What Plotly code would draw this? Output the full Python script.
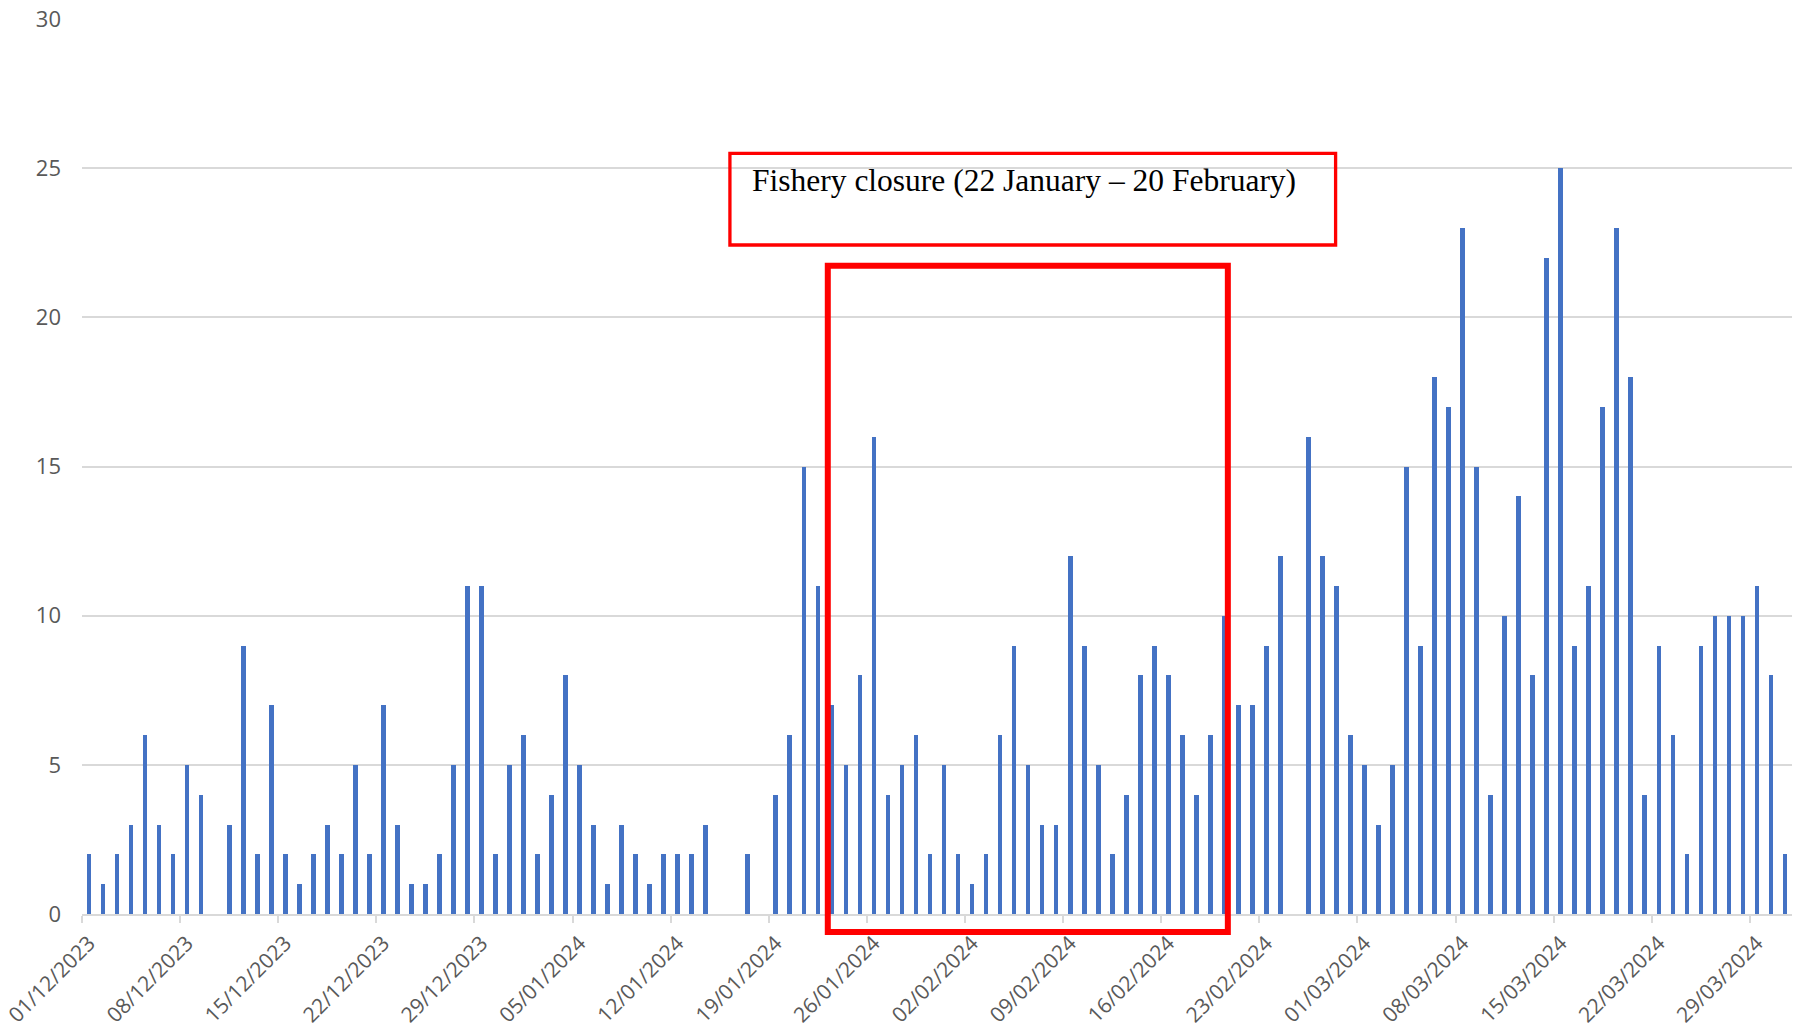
import datetime as dt
import plotly.graph_objects as go

# Daily counts, 01/12/2023 - 31/03/2024
dec_2023 = [2, 1, 2, 3, 6, 3, 2, 5, 4, 0, 3, 9, 2, 7, 2, 1, 2, 3, 2, 5, 2, 7, 3, 1, 1, 2, 5, 11, 11, 2, 5]
jan_2024 = [6, 2, 4, 8, 5, 3, 1, 3, 2, 1, 2, 2, 2, 3, 0, 0, 2, 0, 4, 6, 15, 11, 7, 5, 8, 16, 4, 5, 6, 2, 5]
feb_2024 = [2, 1, 2, 6, 9, 5, 3, 3, 12, 9, 5, 2, 4, 8, 9, 8, 6, 4, 6, 10, 7, 7, 9, 12, 0, 16, 12, 11, 6]
mar_2024 = [5, 3, 5, 15, 9, 18, 17, 23, 15, 4, 10, 14, 8, 22, 25, 9, 11, 17, 23, 18, 4, 9, 6, 2, 9, 10, 10, 10, 11, 8, 2]

values = dec_2023 + jan_2024 + feb_2024 + mar_2024
start = dt.date(2023, 12, 1)
dates = [(start + dt.timedelta(days=i)).isoformat() for i in range(len(values))]
end = (start + dt.timedelta(days=len(values))).isoformat()

annotation_text = "Fishery closure (22 January – 20 February)"
closure_x0 = "2024-01-23 05:00"
closure_x1 = "2024-02-20 18:00"

DAY_MS = 86400000

fig = go.Figure()
fig.add_trace(go.Bar(
    x=dates, y=values,
    xperiod=DAY_MS, xperiodalignment="middle",
    width=0.335 * DAY_MS,
    marker=dict(color="#4472C4", line=dict(width=0)),
    showlegend=False,
    hoverinfo="skip",
))

fig.update_layout(
    width=1793, height=1030,
    margin=dict(l=82, r=1, t=19, b=116, autoexpand=False),
    plot_bgcolor="white", paper_bgcolor="white",
    font=dict(family="Open Sans", size=21, color="#595959"),
    xaxis=dict(
        type="date", range=[dates[0], end], automargin=False,
        tick0=dates[0], dtick=7 * DAY_MS, tickformat="%d/%m/%Y",
        tickangle=-45, ticks="outside", ticklen=7, tickwidth=1.5, tickcolor="#D9D9D9",
        showline=True, linecolor="#D9D9D9", linewidth=1.5,
        showgrid=False, zeroline=False,
        ticklabeloverflow="allow", ticklabelshift=7, ticklabelstandoff=0,
        tickfont=dict(family="Open Sans", size=21, color="#595959"),
    ),
    yaxis=dict(
        range=[0, 30], dtick=5, tick0=0, automargin=False,
        showgrid=True, gridcolor="#D9D9D9", gridwidth=1.5,
        zeroline=False, showline=False, ticks="",
        ticklabelstandoff=20,
        tickfont=dict(family="Open Sans", size=22, color="#595959"),
    ),
    bargap=0,
)

# Closure period box (red)
fig.add_shape(type="rect", xref="x", yref="paper",
              x0=closure_x0, x1=closure_x1, y0=-0.0201, y1=0.7244,
              line=dict(color="#FF0000", width=6), fillcolor="rgba(0,0,0,0)")
# Text box
fig.add_shape(type="rect", xref="paper", yref="paper",
              x0=0.3789, x1=0.7331, y0=0.7475, y1=0.8498,
              line=dict(color="#FF0000", width=3.3), fillcolor="rgba(0,0,0,0)")
fig.add_annotation(xref="paper", yref="paper", x=0.3906, y=0.8498,
                   xanchor="left", yanchor="top", yshift=-7.5,
                   text=annotation_text, showarrow=False,
                   font=dict(family="Liberation Serif", size=31.5, color="#000000"))

fig.write_html("out.html",
               config={"displayModeBar": False},
               post_script="document.body.style.margin='0';document.body.style.padding='0';")
